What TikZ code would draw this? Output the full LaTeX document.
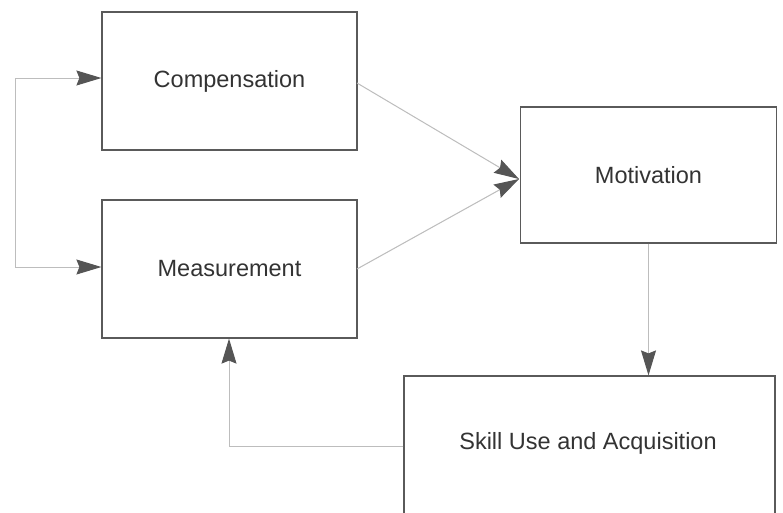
\documentclass[tikz,border=0pt]{standalone}
\usepackage{fontspec}
\setmainfont{Liberation Sans}
\usetikzlibrary{arrows.meta}
\definecolor{boxc}{HTML}{5A5A5A}
\definecolor{linec}{HTML}{BDBDBD}
\definecolor{headc}{HTML}{555555}
\definecolor{textc}{HTML}{333333}
\begin{document}
\begin{tikzpicture}[x=1pt,y=-1pt,
  blk/.style={draw=boxc, line width=1.2pt, fill=white, inner sep=0pt, font=\fontsize{23.5}{28}\selectfont, text=textc},
  conn/.style={draw=linec, line width=1pt, -{Stealth[length=25pt,width=15pt,inset=3pt,color=headc,fill=headc]}},
  plain/.style={draw=linec, line width=1pt}]
\useasboundingbox[fill=white] (0,0) rectangle (783,512);
\node[blk, minimum width=255pt, minimum height=138pt] (comp) at (229.5,81) {Compensation};
\node[blk, minimum width=255pt, minimum height=138pt] (meas) at (229.5,269) {Measurement};
\node[blk, minimum width=256pt, minimum height=136pt] (moti) at (648.5,175) {Motivation};
\node[blk, minimum width=371pt, minimum height=150pt, text depth=0pt] (skill) at (589.5,451) {};
\node[font=\fontsize{23.5}{28}\selectfont, text=textc] (skilltxt) at (588,443) {Skill Use and Acquisition};
\coordinate (ltop) at (15,78);
\coordinate (lbot) at (15,267);
\coordinate (mtgt) at (519,179);
\coordinate (bend) at (229,446);
\draw[plain] (ltop) -- (lbot);
\draw[conn] (ltop) -- (ltop -| comp.west);
\draw[conn] (lbot) -- (lbot -| meas.west);
\draw[conn] (357,83) -- (mtgt);
\draw[conn] (357,269) -- (mtgt);
\draw[conn] (moti.south) -- (skill.north -| moti.south);
\draw[conn] (skill.west |- bend) -- (bend) -- (bend |- meas.south);
\end{tikzpicture}
\end{document}
